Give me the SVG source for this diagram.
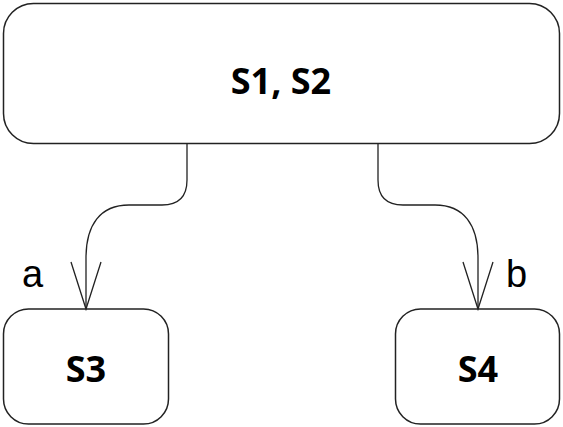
<svg xmlns="http://www.w3.org/2000/svg" width="563" height="427" viewBox="0 0 563 427">
<style>
.box{fill:#fff;stroke:#222;stroke-width:1.5}
.lbl{font-family:"Open Sans","Noto Sans",sans-serif;font-weight:bold;fill:#000;text-anchor:middle}
.edge{fill:none;stroke:#222;stroke-width:1.3}
.elbl{font-family:"Liberation Sans",Arial,sans-serif;font-size:38px;fill:#000}
</style>
<defs>
<marker id="open" markerUnits="userSpaceOnUse" markerWidth="52" markerHeight="34" viewBox="0 0 52 34" refX="49" refY="17" orient="auto">
<path d="M2,2 L49,17 L2,32" fill="none" stroke="#222" stroke-width="1.3"/>
</marker>
</defs>
<rect width="563" height="427" fill="#fff"/>
<g id="n12">
<rect class="box" x="3.5" y="3.5" width="556" height="140" rx="30" ry="30"/>
<text class="lbl" x="281" y="94" font-size="36">S1, S2</text>
</g>
<g id="n3">
<rect class="box" x="3.5" y="309" width="165" height="115" rx="25" ry="25"/>
<text class="lbl" x="86" y="382" font-size="36">S3</text>
</g>
<g id="n4">
<rect class="box" x="395.5" y="309" width="164" height="115" rx="25" ry="25"/>
<text class="lbl" x="478" y="382" font-size="36">S4</text>
</g>
<g id="edges">
<path class="edge" d="M187 143.5 V180 Q187 205 162 205 H129 C100 205 86 225 86 258 V309" marker-end="url(#open)"/>
<path class="edge" d="M378 143.5 V180 Q378 205 403 205 H435 C464 205 478 225 478 258 V309" marker-end="url(#open)"/>
<text class="elbl" x="22" y="287">a</text>
<text class="elbl" x="506" y="287">b</text>
</g>
</svg>
